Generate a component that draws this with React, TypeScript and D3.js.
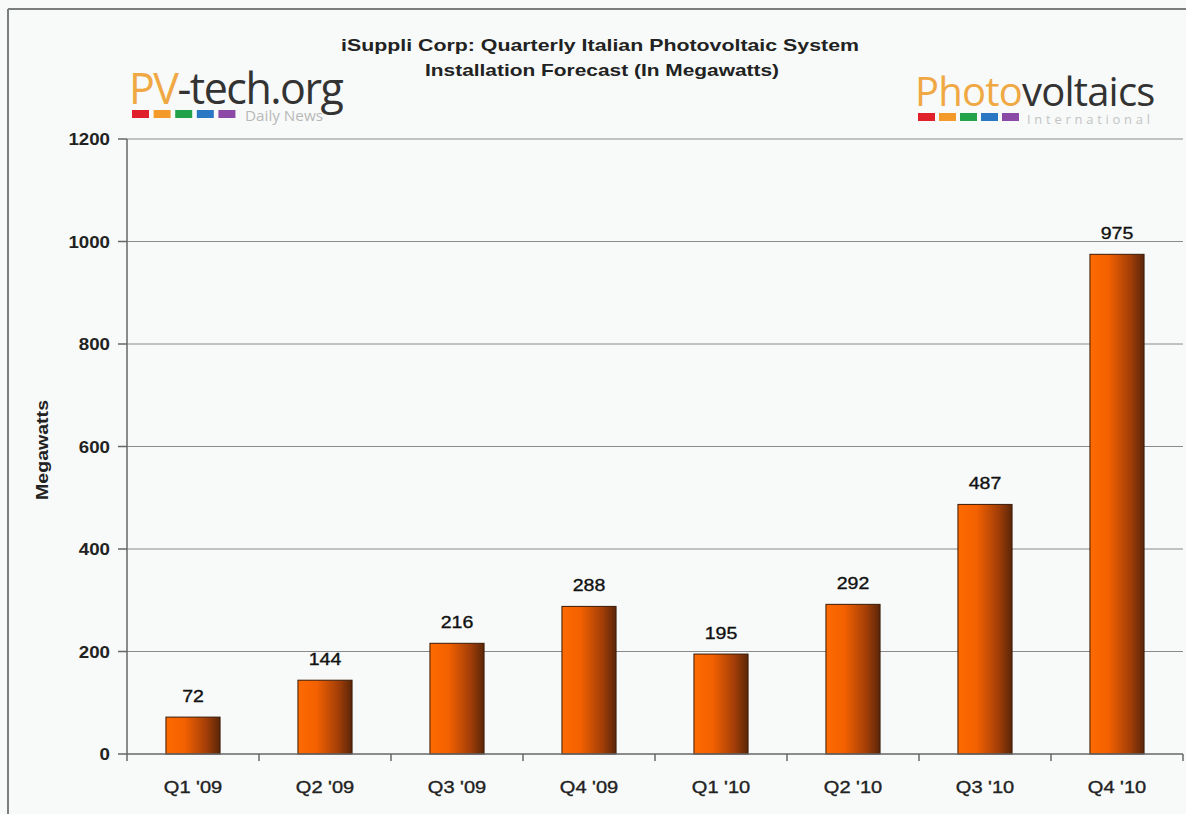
import React from "react";
import * as d3 from "d3";

const categories = ["Q1 '09", "Q2 '09", "Q3 '09", "Q4 '09", "Q1 '10", "Q2 '10", "Q3 '10", "Q4 '10"];
const values = [72, 144, 216, 288, 195, 292, 487, 975];
const yTicks = [0, 200, 400, 600, 800, 1000, 1200];
const titleLines = ["iSuppli Corp: Quarterly Italian Photovoltaic System", "Installation Forecast (In Megawatts)"];
const logoColors = ["#e0202a", "#f39a2a", "#22a34a", "#2a78c4", "#8b4aa6"];

const W = 1186;
const H = 814;
const left = 127;
const right = 1183;
const top = 139;
const bottom = 754;
const SX = 1.15;

function T(props: any) {
  const { x, y, sx = SX, children, ...rest } = props;
  return (
    <text transform={`translate(${x},${y}) scale(${sx},1)`} {...rest}>
      {children}
    </text>
  );
}

export default function App() {
  const x = d3.scaleBand<string>().domain(categories).range([left, right]).paddingInner(0.59).paddingOuter(0.295);
  const y = d3.scaleLinear().domain([0, 1200]).range([bottom, top]);
  const step = x.step();
  const font = "Liberation Sans, Arial, sans-serif";

  return (
    <svg width={W} height={H} style={{ position: "absolute", left: 0, top: 0 }} fontFamily={font}>
      <defs>
        <linearGradient id="barGrad" x1="0" x2="1" y1="0" y2="0">
          <stop offset="0%" stopColor="#ff6a00" />
          <stop offset="35%" stopColor="#f26000" />
          <stop offset="75%" stopColor="#a23e08" />
          <stop offset="100%" stopColor="#5a2608" />
        </linearGradient>
      </defs>
      <rect x={0} y={0} width={W} height={H} fill="#f7faf8" />
      {/* frame */}
      <line x1={8} x2={W} y1={9} y2={9} stroke="#7a7f7c" strokeWidth={2} />
      <line x1={8} x2={8} y1={9} y2={H} stroke="#7a7f7c" strokeWidth={2} />

      {/* title */}
      <text x={600} y={51} textAnchor="middle" fontSize={17} fontWeight="bold" fill="#222" textLength={518} lengthAdjust="spacingAndGlyphs">
        {titleLines[0]}
      </text>
      <text x={602} y={76} textAnchor="middle" fontSize={17} fontWeight="bold" fill="#222" textLength={354} lengthAdjust="spacingAndGlyphs">
        {titleLines[1]}
      </text>

      {/* PV-tech logo */}
      <text x={129} y={104} fontFamily="Open Sans, sans-serif" fontSize={43} fill="#333" letterSpacing={-1.5}>
        <tspan fill="#f0a844">PV</tspan>
        <tspan>-tech.org</tspan>
      </text>
      {logoColors.map((c, i) => (
        <rect key={"a" + i} x={132 + i * 21.6} y={110} width={17} height={8} fill={c} />
      ))}
      <text x={245} y={121} fontSize={14} fill="#b8b8b8" fontFamily="Open Sans, sans-serif" textLength={78} lengthAdjust="spacingAndGlyphs">
        Daily News
      </text>

      {/* Photovoltaics logo */}
      <text x={915} y={106} fontFamily="Open Sans, sans-serif" fontSize={40} fill="#333" letterSpacing={-0.8}>
        <tspan fill="#f0a844">Photo</tspan>
        <tspan>voltaics</tspan>
      </text>
      {logoColors.map((c, i) => (
        <rect key={"b" + i} x={918 + i * 21} y={113} width={17} height={8} fill={c} />
      ))}
      <text x={1027} y={124} fontSize={13} fill="#c4c4c4" fontFamily="Open Sans, sans-serif" textLength={123} lengthAdjust="spacing">
        International
      </text>

      {/* gridlines */}
      {yTicks.filter((t) => t > 0).map((t) => (
        <line key={t} x1={left} x2={right} y1={y(t)} y2={y(t)} stroke="#8a8a8a" strokeWidth={1} />
      ))}

      {/* bars */}
      {categories.map((c, i) => (
        <rect
          key={c}
          x={x(c)}
          y={y(values[i])}
          width={x.bandwidth()}
          height={bottom - y(values[i])}
          fill="url(#barGrad)"
          stroke="#3a1a08"
          strokeWidth={1}
        />
      ))}

      {/* value labels */}
      {categories.map((c, i) => (
        <T key={"v" + c} x={(x(c) as number) + x.bandwidth() / 2} y={y(values[i]) - 15} textAnchor="middle" fontSize={17} fill="#111" stroke="#111" strokeWidth={0.35}>
          {values[i]}
        </T>
      ))}

      {/* y axis */}
      <line x1={left} x2={left} y1={top} y2={bottom} stroke="#666" strokeWidth={1.5} />
      {yTicks.map((t) => (
        <g key={"t" + t}>
          <line x1={left - 9} x2={left} y1={y(t)} y2={y(t)} stroke="#666" strokeWidth={1.5} />
          <T x={110} y={y(t) + 6} sx={1.1} textAnchor="end" fontSize={17} fontWeight="bold" fill="#222">
            {t}
          </T>
        </g>
      ))}
      <text transform={`translate(48, 450) rotate(-90)`} textAnchor="middle" fontSize={17} fontWeight="bold" fill="#222" textLength={100} lengthAdjust="spacingAndGlyphs">
        Megawatts
      </text>

      {/* x axis */}
      <line x1={left} x2={right} y1={bottom} y2={bottom} stroke="#666" strokeWidth={1.5} />
      {d3.range(categories.length + 1).map((i) => (
        <line key={"xt" + i} x1={left + i * step} x2={left + i * step} y1={bottom} y2={bottom + 7} stroke="#666" strokeWidth={1.5} />
      ))}
      {categories.map((c) => (
        <T key={"xl" + c} x={(x(c) as number) + x.bandwidth() / 2} y={793} sx={1.18} textAnchor="middle" fontSize={17} fill="#222" stroke="#222" strokeWidth={0.35}>
          {c}
        </T>
      ))}
    </svg>
  );
}
